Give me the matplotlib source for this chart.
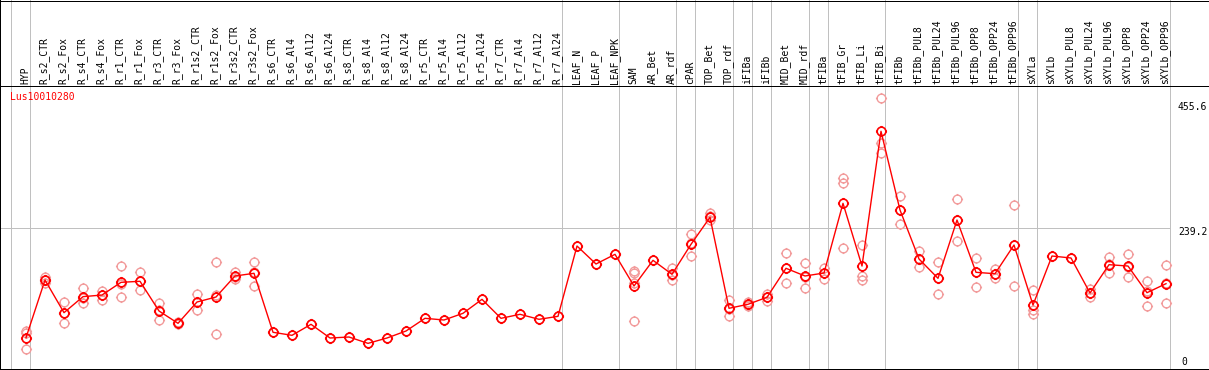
import matplotlib
matplotlib.use("Agg")
import matplotlib.pyplot as plt
from matplotlib.path import Path
import numpy as np

# ---------------- data ----------------
gene = "Lus10010280"

labels = ["HYP", "R_s2_CTR", "R_s2_Fox", "R_s4_CTR", "R_s4_Fox", "R_r1_CTR", "R_r1_Fox",
          "R_r3_CTR", "R_r3_Fox", "R_r1s2_CTR", "R_r1s2_Fox", "R_r3s2_CTR", "R_r3s2_Fox",
          "R_s6_CTR", "R_s6_Al4", "R_s6_Al12", "R_s6_Al24", "R_s8_CTR", "R_s8_Al4",
          "R_s8_Al12", "R_s8_Al24", "R_r5_CTR", "R_r5_Al4", "R_r5_Al12", "R_r5_Al24",
          "R_r7_CTR", "R_r7_Al4", "R_r7_Al12", "R_r7_Al24", "LEAF_N", "LEAF_P", "LEAF_NPK",
          "SAM", "AR_Bet", "AR_rdf", "cPAR", "TOP_Bet", "TOP_rdf", "iFIBa", "iFIBb",
          "MID_Bet", "MID_rdf", "tFIBa", "tFIB_Gr", "tFIB_Li", "tFIB_Bi", "tFIBb",
          "tFIBb_PUL8", "tFIBb_PUL24", "tFIBb_PUL96", "tFIBb_OPP8", "tFIBb_OPP24",
          "tFIBb_OPP96", "sXYLa", "sXYLb", "sXYLb_PUL8", "sXYLb_PUL24", "sXYLb_PUL96",
          "sXYLb_OPP8", "sXYLb_OPP24", "sXYLb_OPP96"]

means = [50.3, 149.4, 93.3, 120.8, 123.6, 145.4, 147.2, 96.2, 75.0, 111.6, 120.2, 156.3, 160.9,
         59.6, 54.4, 73.3, 49.8, 51.5, 40.6, 49.8, 61.8, 83.6, 80.7, 92.2, 116.2,
         83.6, 90.5, 81.9, 87.0, 207.8, 176.9, 193.5,
         139.1, 183.2, 159.2, 210.7, 257.1, 100.8, 107.7, 119.7,
         169.5, 156.3, 161.4, 281.1, 173.4, 404.8, 269.6,
         185.5, 152.3, 252.4, 162.6, 160.2, 209.5,
         106.5, 190.6, 187.2, 127.1, 175.7, 173.4, 127.6, 143.1]

replicates = [
    [61.8, 58.0, 30.9], [155.0, 149.0, 143.8], [111.6, 93.0, 75.6], [135.7, 118.0, 109.4],
    [131.0, 124.0, 115.0], [173.4, 143.0, 119.7], [163.0, 147.0, 131.7], [110.0, 98.0, 80.7],
    [77.0, 75.0, 73.0], [125.4, 112.0, 97.9], [180.8, 124.0, 56.2], [163.7, 155.0, 150.6],
    [180.8, 163.0, 138.6],
    [59.6], [54.4], [73.3], [49.8], [51.5], [40.6], [49.8], [61.8],
    [83.6], [80.7], [92.2], [116.2], [83.6], [90.5], [81.9], [87.0],
    [207.8], [176.9], [193.5],
    [165.0, 162.0, 145.0, 79.0], [183.2], [170.5, 158.0, 149.4], [227.9, 213.0, 191.1],
    [264.0, 259.0, 253.0], [115.0, 100.0, 87.0], [111.3, 107.0, 104.4], [125.4, 120.0, 113.3],
    [195.3, 170.0, 143.7], [178.6, 155.0, 135.2], [170.5, 162.0, 151.6], [325.0, 316.5, 203.8],
    [209.0, 156.8, 149.4], [461.4, 384.2, 367.0], [293.1, 269.0, 245.0],
    [198.7, 186.0, 171.7], [179.8, 152.0, 125.4], [288.5, 252.0, 215.9],
    [186.7, 163.0, 136.9], [167.8, 160.0, 152.3], [277.7, 210.0, 139.1],
    [132.2, 97.9, 91.0], [190.6], [187.2], [133.5, 127.0, 120.8], [188.9, 177.0, 160.9],
    [194.6, 171.0, 154.6], [147.7, 130.0, 104.8], [175.2, 144.0, 110.0]]

group_starts = [0, 1, 29, 32, 35, 36, 38, 39, 40, 42, 43, 46, 53, 54, 61]
ref_value = 239.2
axis_labels = ["455.6", "239.2", "0"]

# ---------------- layout (pixel geometry) ----------------
W, H = 1209, 370
X0, DX = 26.0, 19.0          # pixel x of first column, column spacing
Y0, SC = 367.0, 0.5823       # pixel y of value 0, pixels per unit

def px_x(p):  # pixel x -> column units
    return (p - X0) / DX

def px_y(p):  # pixel y (from top) -> value units
    return (Y0 - p) / SC

fig = plt.figure(figsize=(W / 100, H / 100), dpi=100)
fig.patch.set_facecolor("white")
ax = fig.add_axes([0, 0, 1, 1])
ax.set_xlim(px_x(0), px_x(W))
ax.set_ylim(px_y(H), px_y(0))
ax.axis("off")

font = dict(family="DejaVu Sans Mono", size=7)
grey = "#c0c0c0"
LW1 = 0.72  # one pixel

# borders and header line
kw = dict(color="black", solid_capstyle="butt", antialiased=False, lw=LW1)
ax.plot([px_x(0), px_x(W)], [px_y(0.5), px_y(0.5)], **kw)
ax.plot([px_x(0.5), px_x(0.5)], [px_y(0), px_y(H)], **kw)
ax.plot([px_x(0), px_x(W)], [px_y(368.5), px_y(368.5)], **kw)
ax.plot([px_x(0), px_x(W)], [px_y(85.5), px_y(85.5)], **kw)

# group separators
for g in group_starts:
    xs = g - 0.78
    ax.plot([xs, xs], [px_y(0), px_y(368)], color=grey, lw=LW1, zorder=1, antialiased=False)

# reference line
ax.plot([px_x(0), group_starts[-1] - 0.78], [ref_value, ref_value], color=grey, lw=LW1,
        zorder=1, antialiased=False)

# column labels
for i, lab in enumerate(labels):
    ax.text(i - 0.05, px_y(83.5), lab, rotation=90, ha="center", va="bottom",
            color="black", **font)

# gene name
ax.text(px_x(10), px_y(97), gene, color="red", ha="left", va="center", **font)

# axis value labels
label_pix = [106.7, 232.3, 362.3]
label_left = [1178, 1178, 1181]
for t, yp, xl in zip(axis_labels, label_pix, label_left):
    ax.text(px_x(xl), px_y(yp), t, color="black", ha="left", va="center", **font)

# custom marker: circle (polygon) with four small ticks
n = 36
th = np.linspace(0, 2 * np.pi, n + 1)
circ_v = np.column_stack([np.cos(th), np.sin(th)])
circ_c = [Path.MOVETO] + [Path.LINETO] * (n - 1) + [Path.CLOSEPOLY]
r2 = 1.28
tick_v = np.array([(0, 1), (0, r2), (0, -1), (0, -r2), (1, 0), (r2, 0), (-1, 0), (-r2, 0)])
tick_c = [Path.MOVETO, Path.LINETO] * 4
marker = Path(np.vstack([circ_v, tick_v]), circ_c + tick_c)

xs = np.arange(len(labels))
rx = [i for i, reps in enumerate(replicates) for _ in reps]
ry = [v for reps in replicates for v in reps]
ax.plot(rx, ry, linestyle="none", marker=marker, markersize=8.0, markerfacecolor="none",
        markeredgecolor="#f29c9c", markeredgewidth=1.0, zorder=3)
ax.plot(xs, means, color="red", lw=1.0, zorder=4)
ax.plot(xs, means, linestyle="none", marker=marker, markersize=8.0, markerfacecolor="none",
        markeredgecolor="red", markeredgewidth=1.2, zorder=5)

fig.savefig("out.png", dpi=100, facecolor="white")
